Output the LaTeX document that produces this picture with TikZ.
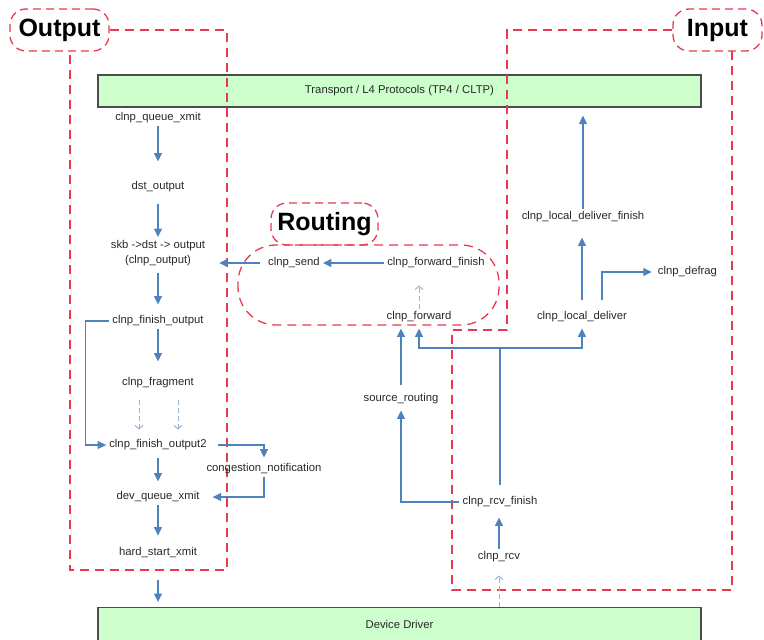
\documentclass[tikz,border=0pt]{standalone}
\usepackage{fontspec}
\setmainfont{Liberation Sans}
\usepackage{tikz}
\usetikzlibrary{arrows.meta}
\definecolor{flowblue}{RGB}{79,129,189}
\definecolor{paleblue}{RGB}{149,179,215}
\definecolor{regionred}{RGB}{232,58,78}
\definecolor{layergreen}{RGB}{204,255,204}
\definecolor{textgray}{RGB}{40,40,40}
\tikzset{fn node/.style={font=\fontsize{11.3}{15}\selectfont,text=textgray,inner sep=3pt,minimum height=16pt,align=center},
layer node/.style={draw=black!70,fill=layergreen,line width=1.2pt,minimum width=603pt,font=\fontsize{11.3}{15}\selectfont,text=textgray},
tag node/.style={draw=regionred,dash pattern=on 8pt off 5pt,line width=1.3pt,rounded corners=16pt,minimum height=42pt,inner sep=0pt,font=\fontsize{25}{28}\selectfont\bfseries},
region/.style={draw=regionred,dash pattern=on 9pt off 6pt,line width=1.3pt},
flow/.style={draw=flowblue,line width=1.1pt,-{Triangle[length=8.5pt,width=8pt]}},
weak flow/.style={draw=paleblue,line width=1pt,dash pattern=on 5pt off 3pt,-{Straight Barb[length=3.5pt,width=8pt]}},}

\begin{document}
\begin{tikzpicture}[x=1pt,y=-1pt]
    \useasboundingbox (0,0) rectangle (764,640);

    \node[layer node,minimum height=32pt] (transport) at (399.5,91) {Transport / L4 Protocols (TP4 / CLTP)};
    \node[layer node,minimum height=34pt,anchor=north] (driver) at (399.5,607) {Device Driver};

    \begin{scope}
    \node[tag node,minimum width=99pt] (outtag) at (59.5,30) {Output};
    \draw[region] (outtag.east) -- (227,30) -- (227,570) -- (70,570) -- (70,51);

    \node[fn node] (qx) at (158,118) {clnp\_queue\_xmit};
    \node[fn node] (dst) at (158,187) {dst\_output};
    \node[fn node] (skb) at (158,253) {skb ->dst -> output\\(clnp\_output)};
    \node[fn node] (fo) at (158,321) {clnp\_finish\_output};
    \node[fn node] (frag) at (158,383) {clnp\_fragment};
    \node[fn node] (fo2) at (158,445) {clnp\_finish\_output2};
    \node[fn node] (cong) at (264,469) {congestion\_notification};
    \node[fn node] (dqx) at (158,497) {dev\_queue\_xmit};
    \node[fn node] (hsx) at (158,553) {hard\_start\_xmit};

    \path[every edge/.style=flow]
    (qx) edge[shorten >=17pt] (dst)
    (dst) edge[shorten <=9pt] (skb)
    (skb) edge[shorten <=4pt,shorten >=8pt] (fo)
    (fo) edge[shorten >=13pt] (frag)
    (fo2) edge[shorten <=5pt,shorten >=7pt] (dqx)
    (dqx) edge[shorten >=9pt] (hsx)
    (hsx) edge[shorten <=19pt,shorten >=5pt] (hsx |- driver.north)
    ;
    \path[every edge/.style=weak flow]
    ([xshift=-19pt]frag.south) edge[shorten <=9pt,shorten >=7pt] ([xshift=-19pt]fo2.north)
    ([xshift=20pt]frag.south) edge[shorten <=9pt,shorten >=7pt] ([xshift=20pt]fo2.north)
    ;
    \draw[flow] (fo.west) -- ++(-24,0) |- (fo2.west);
    \draw[flow,shorten <=8pt,shorten >=3pt] (fo2.east) -| (cong.north);
    \draw[flow] (cong.south) |- ([xshift=10pt]dqx.east);
    \end{scope}

    \begin{scope}
    \node[tag node,minimum width=107pt] (routetag) at (324.5,224) {Routing};
    \draw[region,rounded corners=38pt] (238,245) rectangle (499,325);

    \node[fn node] (send) at (294,263) {clnp\_send};
    \node[fn node] (fwdfin) at (436,263) {clnp\_forward\_finish};
    \node[fn node] (fwd) at (419,317) {clnp\_forward};

    \path[every edge/.style=flow]
    (fwdfin) edge (send)
    ([xshift=-5pt]send.west) edge ([xshift=11pt]send.west -| skb.east)
    ;
    \path[every edge/.style=weak flow]
    (fwd.north) edge[shorten >=14pt] (fwd.north |- fwdfin.south)
    ;
    \end{scope}

    \begin{scope}
    \node[tag node,minimum width=89pt] (intag) at (717.5,30) {Input};
    \draw[region] (intag.west) -- (507,30) -- (507,330) -- (452,330) -- (452,590) -- (732,590) -- (732,51);

    \node[fn node] (ldf) at (583,217) {clnp\_local\_deliver\_finish};
    \node[fn node] (ld) at (582,317) {clnp\_local\_deliver};
    \node[fn node] (defrag) at (687.5,272) {clnp\_defrag};
    \node[fn node] (srcr) at (401,399) {source\_routing};
    \node[fn node] (rcvfin) at (500,502) {clnp\_rcv\_finish};
    \node[fn node] (rcv) at (499,557) {clnp\_rcv};
    \coordinate (split) at (500,348);

    \path[every edge/.style=flow]
    (ld.north) edge[shorten <=9pt,shorten >=12pt] (ld.north |- ldf.south)
    (ldf) edge[shorten >=8pt] (ldf |- transport.south)
    (rcv.north) edge[shorten >=7pt] (rcv.north |- rcvfin.south)
    ([yshift=6pt]srcr.north) edge[shorten >=3pt] (srcr.north |- fwd.south)
    ;
    \draw[flow,shorten <=9pt,shorten >=3pt] ([xshift=20pt]ld.north) |- (defrag.west);
    \draw[flow,shorten >=3pt] (rcvfin.west) -| (srcr.south);
    \draw[draw=flowblue,line width=1.1pt,shorten <=9pt] (rcvfin.north) -- (split);
    \draw[flow,shorten >=3pt] (split) -| (fwd.south);
    \draw[flow,shorten >=3pt] (split) -| (ld.south);
    \path[every edge/.style=weak flow]
    (rcv |- driver.north) edge[shorten >=10pt] (rcv.south)
    ;
    \end{scope}
\end{tikzpicture}
\end{document}
